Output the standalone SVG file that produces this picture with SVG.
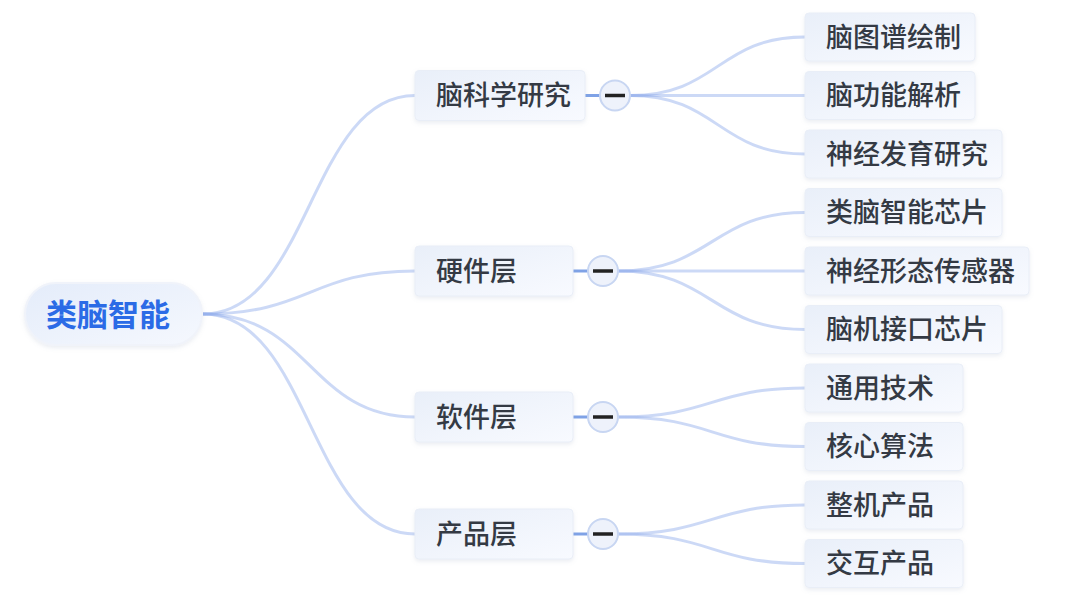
<svg xmlns="http://www.w3.org/2000/svg" width="1080" height="602" viewBox="0 0 1080 602">
<defs>
<linearGradient id="g" x1="0" y1="0" x2="1" y2="1">
<stop offset="0" stop-color="#e9eff9"/>
<stop offset="1" stop-color="#f8faff"/>
</linearGradient>
<linearGradient id="gr" x1="0" y1="0" x2="1" y2="1">
<stop offset="0" stop-color="#e4ecfa"/>
<stop offset="1" stop-color="#f5f8fe"/>
</linearGradient>
<filter id="sh" x="-10%" y="-20%" width="120%" height="150%">
<feDropShadow dx="0" dy="2" stdDeviation="2" flood-color="#8a9ab8" flood-opacity="0.18"/>
</filter>
<style>
.n{fill:url(#g);stroke:#e9eef7;stroke-width:1;filter:url(#sh)}
.t{font-family:"Noto Sans CJK SC","Noto Sans",sans-serif;font-size:27px;font-weight:500;fill:#343a44}
.c{fill:none;stroke:#8eabea;stroke-opacity:0.45;stroke-width:3}
.s{stroke:#7fa2e6;stroke-width:3}
.b{fill:#eef2fb;stroke:#c8d6f2;stroke-width:2}
.m{stroke:#222;stroke-width:3.5}
</style>
</defs>
<rect width="1080" height="602" fill="#ffffff"/>
<g id="connectors">
<path class="c" d="M203 314 C310 314 310 95.5 415 95.5"/>
<path class="c" d="M203 314 C310 314 310 271 415 271"/>
<path class="c" d="M203 314 C310 314 310 417 415 417"/>
<path class="c" d="M203 314 C310 314 310 534 415 534"/>
<path class="c" d="M630 95.5 C718 95.5 718 37 805 37"/>
<path class="c" d="M630 95.5 L805 95.5"/>
<path class="c" d="M630 95.5 C718 95.5 718 154 805 154"/>
<path class="c" d="M618 271 C712 271 712 212.5 805 212.5"/>
<path class="c" d="M618 271 L805 271"/>
<path class="c" d="M618 271 C712 271 712 329.5 805 329.5"/>
<path class="c" d="M618 417 C712 417 712 388 805 388"/>
<path class="c" d="M618 417 C712 417 712 446.5 805 446.5"/>
<path class="c" d="M618 534 C712 534 712 505 805 505"/>
<path class="c" d="M618 534 C712 534 712 563.5 805 563.5"/>
<line class="s" x1="585" y1="95.5" x2="600" y2="95.5"/>
<line class="s" x1="573" y1="271" x2="588" y2="271"/>
<line class="s" x1="573" y1="417" x2="588" y2="417"/>
<line class="s" x1="573" y1="534" x2="588" y2="534"/>
</g>
<g id="root">
<rect x="25" y="283" width="177" height="62" rx="31" fill="url(#gr)" stroke="#f0f3fa" stroke-width="2" filter="url(#sh)"/>
<text x="46" y="325.5" font-family="Noto Sans CJK SC, Noto Sans, sans-serif" font-size="31" font-weight="bold" fill="#2b6be6">类脑智能</text>
</g>
<g id="n1">
<rect class="n" x="415" y="70.5" width="170" height="50" rx="4"/>
<text class="t" x="436" y="105">脑科学研究</text>
<circle class="b" cx="615" cy="95.5" r="15"/>
<line class="m" x1="605" y1="95.5" x2="625" y2="95.5"/>
</g>
<g id="n2">
<rect class="n" x="415" y="246" width="158" height="50" rx="4"/>
<text class="t" x="436" y="280.5">硬件层</text>
<circle class="b" cx="603" cy="271" r="15"/>
<line class="m" x1="593" y1="271" x2="613" y2="271"/>
</g>
<g id="n3">
<rect class="n" x="415" y="392" width="158" height="50" rx="4"/>
<text class="t" x="436" y="426.5">软件层</text>
<circle class="b" cx="603" cy="417" r="15"/>
<line class="m" x1="593" y1="417" x2="613" y2="417"/>
</g>
<g id="n4">
<rect class="n" x="415" y="509" width="158" height="50" rx="4"/>
<text class="t" x="436" y="543.5">产品层</text>
<circle class="b" cx="603" cy="534" r="15"/>
<line class="m" x1="593" y1="534" x2="613" y2="534"/>
</g>
<g id="l1"><rect class="n" x="805" y="13" width="170" height="48" rx="4"/><text class="t" x="826" y="46.5">脑图谱绘制</text></g>
<g id="l2"><rect class="n" x="805" y="71.5" width="170" height="48" rx="4"/><text class="t" x="826" y="105">脑功能解析</text></g>
<g id="l3"><rect class="n" x="805" y="130" width="197" height="48" rx="4"/><text class="t" x="826" y="163.5">神经发育研究</text></g>
<g id="l4"><rect class="n" x="805" y="188.5" width="197" height="48" rx="4"/><text class="t" x="826" y="222">类脑智能芯片</text></g>
<g id="l5"><rect class="n" x="805" y="247" width="224" height="48" rx="4"/><text class="t" x="826" y="280.5">神经形态传感器</text></g>
<g id="l6"><rect class="n" x="805" y="305.5" width="197" height="48" rx="4"/><text class="t" x="826" y="339">脑机接口芯片</text></g>
<g id="l7"><rect class="n" x="805" y="364" width="158" height="48" rx="4"/><text class="t" x="826" y="397.5">通用技术</text></g>
<g id="l8"><rect class="n" x="805" y="422.5" width="158" height="48" rx="4"/><text class="t" x="826" y="456">核心算法</text></g>
<g id="l9"><rect class="n" x="805" y="481" width="158" height="48" rx="4"/><text class="t" x="826" y="514.5">整机产品</text></g>
<g id="l10"><rect class="n" x="805" y="539.5" width="158" height="48" rx="4"/><text class="t" x="826" y="573">交互产品</text></g>
</svg>
